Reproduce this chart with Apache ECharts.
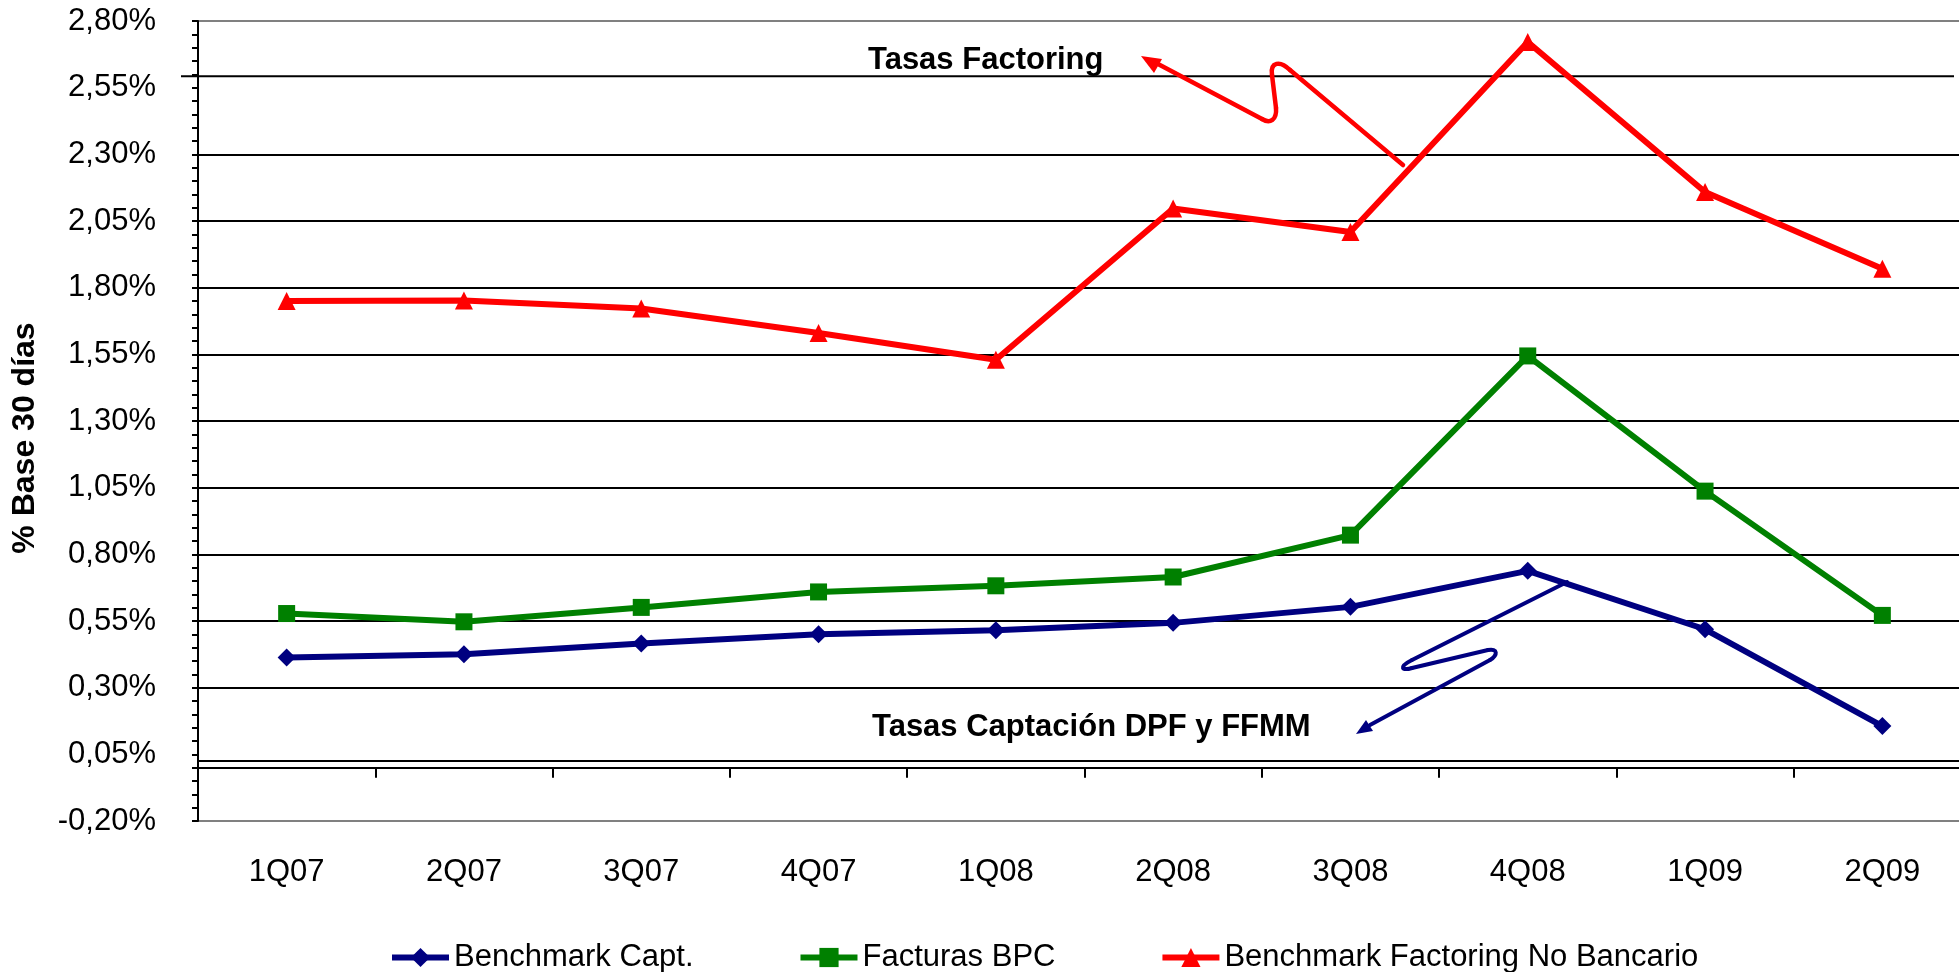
<!DOCTYPE html>
<html>
<head>
<meta charset="utf-8">
<script src="https://cdn.jsdelivr.net/npm/echarts@6/dist/echarts.min.js"></script>
<style>
html,body{margin:0;padding:0;background:#fff;}
#c{width:1959px;height:972px;}
</style>
</head>
<body>
<div id="c"></div>
<script>
const categories = ['1Q07','2Q07','3Q07','4Q07','1Q08','2Q08','3Q08','4Q08','1Q09','2Q09'];
const benchmarkCapt = [0.413, 0.425, 0.466, 0.500, 0.515, 0.543, 0.603, 0.738, 0.519, 0.156];
const facturasBPC = [0.578, 0.547, 0.601, 0.659, 0.682, 0.715, 0.872, 1.544, 1.037, 0.571];
const benchmarkFactoring = [1.750, 1.752, 1.722, 1.630, 1.530, 2.097, 2.009, 2.721, 2.159, 1.871];
const seriesNames = ['Benchmark Capt.', 'Facturas BPC', 'Benchmark Factoring No Bancario'];
const yMin = -0.20, yMax = 2.80, yStep = 0.25;
const noteTop = 'Tasas Factoring';
const noteBottom = 'Tasas Captación DPF y FFMM';
const yTitle = '% Base 30 días';

const FONT = '"Liberation Sans", Arial, sans-serif';
const chart = echarts.init(document.getElementById('c'), null, {renderer:'canvas'});

const gridColors = ['#808080','rgba(0,0,0,0)','#000','#000','#000','#000','#000','#000','#000','#000','#000','rgba(0,0,0,0)','#808080'];

chart.setOption({
  animation:false,
  backgroundColor:'#fff',
  grid:{left:198, top:21, width:1773, height:800, containLabel:false, outerBoundsMode:'none'},
  legend:{
    data:seriesNames, left:384, top:937, itemWidth:57, itemHeight:24, itemGap:104,
    lineStyle:{width:6},
    textStyle:{fontFamily:FONT, fontSize:31, color:'#000'}
  },
  xAxis:{
    type:'category', data:categories, boundaryGap:true,
    axisLine:{onZero:true, lineStyle:{color:'#000', width:2}},
    axisTick:{show:true, length:10, lineStyle:{color:'#000', width:2}},
    axisLabel:{margin:36, fontFamily:FONT, fontSize:31, color:'#000'},
    splitLine:{show:false}
  },
  yAxis:{
    type:'value', min:yMin, max:yMax, interval:yStep,
    axisLine:{show:true, onZero:false, lineStyle:{color:'#000', width:2}},
    axisTick:{show:true, length:6, lineStyle:{color:'#000', width:2}},
    minorTick:{show:true, splitNumber:5, length:6, lineStyle:{color:'#000', width:2}},
    axisLabel:{margin:42, fontFamily:FONT, fontSize:31, color:'#000', padding:[14,0,0,0],
      formatter:v => (Math.round(v*100)/100).toFixed(2).replace('.', ',') + '%'},
    splitLine:{show:true, lineStyle:{color:gridColors, width:2}}
  },
  series:[
    {name:seriesNames[0], type:'line', data:benchmarkCapt, symbol:'diamond', symbolSize:18,
     lineStyle:{color:'#000080', width:6}, itemStyle:{color:'#000080'}, z:3},
    {name:seriesNames[1], type:'line', data:facturasBPC, symbol:'rect', symbolSize:17,
     lineStyle:{color:'#008000', width:6}, itemStyle:{color:'#008000'}, z:3},
    {name:seriesNames[2], type:'line', data:benchmarkFactoring, symbol:'triangle', symbolSize:18,
     lineStyle:{color:'#FF0000', width:6}, itemStyle:{color:'#FF0000'}, z:3}
  ]
});

// decorative annotation shapes (hand-drawn arrows in the original)
const yLineTop = chart.convertToPixel({yAxisIndex:0}, 2.593);
const yLineLow = chart.convertToPixel({yAxisIndex:0}, 0.025);
const red = {stroke:'#FF0000', lineWidth:4.5, fill:null, lineCap:'round'};
const blue = {stroke:'#000080', lineWidth:4, fill:null, lineCap:'round'};
function seg(x1,y1,x2,y2,st){return {type:'line', shape:{x1,y1,x2,y2}, style:st, z:10};}
function bez(x1,y1,c1x,c1y,c2x,c2y,x2,y2,st){return {type:'bezierCurve', shape:{x1,y1,cpx1:c1x,cpy1:c1y,cpx2:c2x,cpy2:c2y,x2,y2}, style:st, z:10};}
chart.setOption({
  graphic:[
    {type:'line', shape:{x1:181, y1:yLineTop, x2:1954, y2:yLineTop}, style:{stroke:'#000', lineWidth:2}, z:1},
    {type:'line', shape:{x1:198, y1:yLineLow, x2:1959, y2:yLineLow}, style:{stroke:'#000', lineWidth:2}, z:1},
    {type:'text', x:25, y:438, rotation:Math.PI/2,
     style:{text:yTitle, font:'bold 32px '+FONT, fill:'#000', align:'center', verticalAlign:'middle'}, z:10},
    {type:'text', x:868, y:60, style:{text:noteTop, font:'bold 31px '+FONT, fill:'#000', verticalAlign:'middle'}, z:10},
    {type:'text', x:872, y:727, style:{text:noteBottom, font:'bold 31px '+FONT, fill:'#000', verticalAlign:'middle'}, z:10},
    seg(1403,165,1290,70,red),
    bez(1290,70,1280,60,1270,62,1272,75,red),
    seg(1272,75,1276,108,red),
    bez(1276,108,1277,120,1270,124,1262,119,red),
    seg(1262,119,1158,64,red),
    {type:'polygon', shape:{points:[[1141,56],[1162,59],[1154,73]]}, style:{fill:'#FF0000'}, z:10},
    seg(1567,582,1412,660,blue),
    bez(1412,660,1398,667,1402,671,1412,668,blue),
    seg(1412,668,1488,650,blue),
    bez(1488,650,1498,648,1498,655,1490,660,blue),
    seg(1490,660,1370,725,blue),
    {type:'polygon', shape:{points:[[1356,734],[1373,731],[1366,720]]}, style:{fill:'#000080'}, z:10}
  ]
});
</script>
</body>
</html>
